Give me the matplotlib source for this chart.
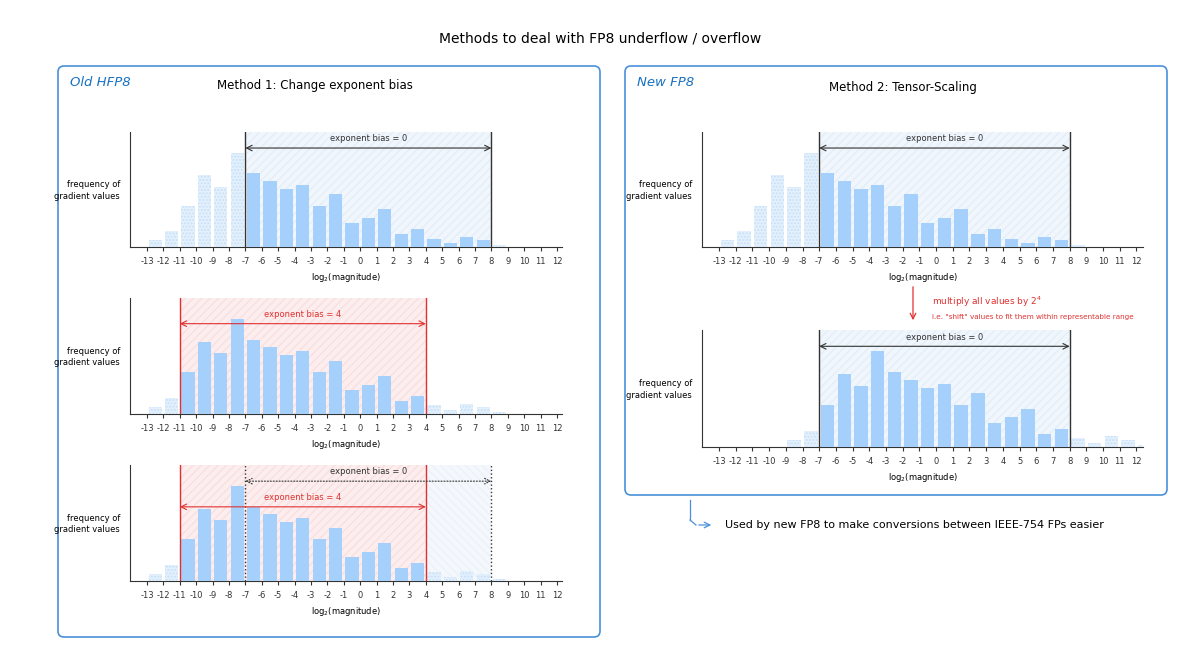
import numpy as np
import matplotlib.pyplot as plt
from matplotlib.patches import FancyBboxPatch

# frequency of gradient values, bar k spans [k, k+1]
bins = np.arange(-13, 9)
freq = [0.07, 0.17, 0.44, 0.76, 0.64, 1.0, 0.78, 0.70, 0.62, 0.66, 0.44,
        0.56, 0.25, 0.31, 0.40, 0.14, 0.19, 0.09, 0.04, 0.11, 0.07, 0.02]
ticks = list(range(-13, 13))
shift = 4  # multiply by 2^4

W, H = 1200, 659
fig = plt.figure(figsize=(W / 100, H / 100), dpi=100)
fig.patch.set_facecolor('white')

BLUE = '#a5d0fb'
FADE = '#e4f1fd'
RED = '#e03131'
EDGE = '#4a90d9'


def px(x, y):
    return x / W, 1 - y / H


def box(x0, y0, x1, y1):
    ax = fig.add_axes([0, 0, 1, 1], zorder=-1)
    ax.set_xlim(0, W); ax.set_ylim(H, 0); ax.axis('off')
    ax.add_patch(FancyBboxPatch((x0, y0), x1 - x0, y1 - y0,
                                boxstyle='round,pad=0,rounding_size=6',
                                fill=False, ec=EDGE, lw=1.2))


def hist(xl, xr, ytop, ybase, unit, offset, lo, hi, region_color, fade_outside=True):
    # axes from x=xl px to xr px; data -13 sits at xl + 17 px
    x0 = -13 - 17 / unit
    x1 = x0 + (xr - xl) / unit
    ax = fig.add_axes([xl / W, 1 - ybase / H, (xr - xl) / W, (ybase - ytop) / H])
    ax.set_xlim(x0, x1); ax.set_ylim(0, 1.22)
    b = bins + offset
    for k, f in zip(b, freq):
        inside = lo <= k < hi
        if inside or not fade_outside:
            ax.bar(k + 0.5, f, width=0.8, color=BLUE, edgecolor='none', zorder=3)
        else:
            ax.bar(k + 0.5, f, width=0.8, color=FADE, edgecolor='#c7e0f8',
                   hatch='.....', lw=0, zorder=3)
    for s in ['top', 'right']:
        ax.spines[s].set_visible(False)
    ax.spines['left'].set_color('#333'); ax.spines['bottom'].set_color('#333')
    ax.set_yticks([])
    ax.set_xticks(ticks)
    ax.set_xticklabels([str(t) for t in ticks], fontsize=6)
    ax.tick_params(axis='x', length=3, pad=4, colors='#333')
    ax.set_xlabel('log$_2$(magnitude)', fontsize=6, labelpad=4)
    ax.text(x0 - 0.6, 0.6, 'frequency of\ngradient values', fontsize=6,
            ha='right', va='center', linespacing=1.4)
    if region_color is not None:
        ax.axvspan(lo, hi, color=region_color, alpha=0.08, hatch='////', lw=0, zorder=1)
        ax.axvline(lo, color=region_color if region_color == RED else '#333', lw=1, zorder=4)
        ax.axvline(hi, color=region_color if region_color == RED else '#333', lw=1, zorder=4)
    return ax


def span_arrow(ax, lo, hi, y, text, color, ls='-'):
    ax.annotate('', xy=(hi, y), xytext=(lo, y),
                arrowprops=dict(arrowstyle='<->', color=color, lw=0.8, ls=ls,
                                shrinkA=0, shrinkB=0), zorder=6)
    ax.text((lo + hi) / 2, y + 0.05, text, color=color, fontsize=6, ha='center',
            va='bottom', zorder=6)


fig.text(*px(600, 38), 'Methods to deal with FP8 underflow / overflow',
         fontsize=10, ha='center', va='center')

# left panel
box(58, 66, 600, 637)
fig.text(*px(70, 82), 'Old HFP8', color='#1971c2', fontsize=9.5, va='center', style='italic')
fig.text(*px(315, 86), 'Method 1: Change exponent bias', fontsize=8.5, ha='center', va='center')

a1 = hist(130, 562, 132, 247, 16.4, 0, -7, 8, '#4a90d9')
span_arrow(a1, -7, 8, 1.05, 'exponent bias = 0', '#333')

a2 = hist(130, 562, 298, 414, 16.4, 0, -11, 4, RED)
span_arrow(a2, -11, 4, 0.95, 'exponent bias = 4', RED)

a3 = hist(130, 562, 465, 581, 16.4, 0, -11, 4, RED)
a3.axvspan(4, 8, color='#4a90d9', alpha=0.06, hatch='\\\\\\\\', lw=0, zorder=1)
a3.axvline(-7, color='#333', lw=1, ls=':', zorder=4)
a3.axvline(8, color='#333', lw=1, ls=':', zorder=4)
span_arrow(a3, -7, 8, 1.05, 'exponent bias = 0', '#333', ls=':')
span_arrow(a3, -11, 4, 0.78, 'exponent bias = 4', RED)

# right panel
box(625, 66, 1167, 495)
fig.text(*px(637, 82), 'New FP8', color='#1971c2', fontsize=9.5, va='center', style='italic')
fig.text(*px(903, 88), 'Method 2: Tensor-Scaling', fontsize=8.5, ha='center', va='center')

b1 = hist(702, 1143, 132, 247, 16.7, 0, -7, 8, '#4a90d9')
span_arrow(b1, -7, 8, 1.05, 'exponent bias = 0', '#333')

b2 = hist(702, 1143, 330, 447, 16.7, shift, -7, 8, '#4a90d9')
span_arrow(b2, -7, 8, 1.05, 'exponent bias = 0', '#333')

over = fig.add_axes([0, 0, 1, 1], zorder=10)
over.set_xlim(0, W); over.set_ylim(H, 0); over.axis('off')
over.annotate('', xy=(913, 323), xytext=(913, 284),
              arrowprops=dict(arrowstyle='->', color=RED, lw=0.9))
over.text(932, 302, 'multiply all values by 2$^{4}$', color=RED, fontsize=6.5, va='center')
over.text(932, 317, 'i.e. "shift" values to fit them within representable range',
          color=RED, fontsize=5.2, va='center')
over.plot([690, 690], [500, 520], color=EDGE, lw=0.9)
over.plot([690, 696], [520, 525], color=EDGE, lw=0.9)
over.annotate('', xy=(714, 525), xytext=(696, 525),
              arrowprops=dict(arrowstyle='->', color=EDGE, lw=0.9))
over.text(725, 525, 'Used by new FP8 to make conversions between IEEE-754 FPs easier',
          fontsize=8, va='center')

fig.savefig('out.png', dpi=100, facecolor='white')
